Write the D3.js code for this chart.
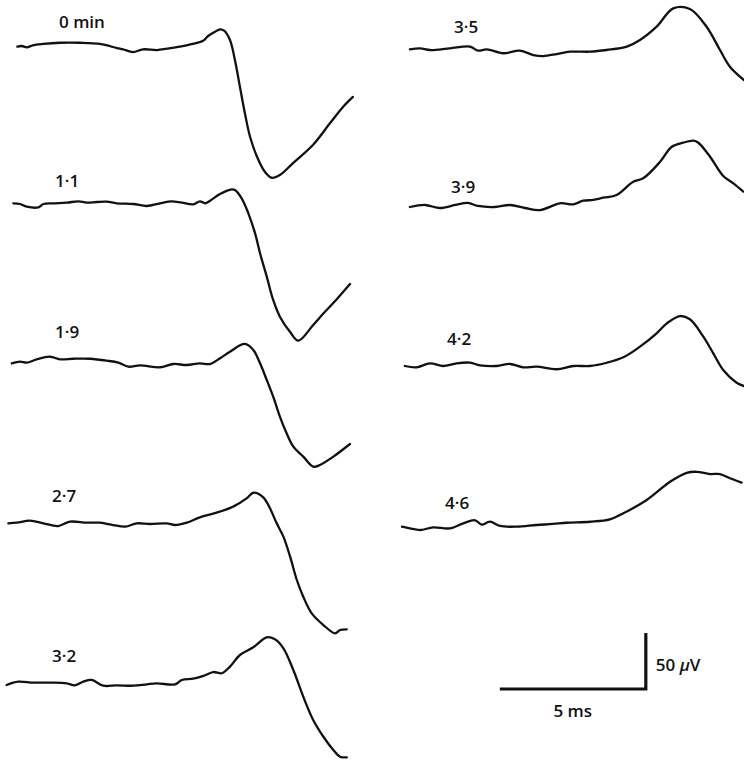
<!DOCTYPE html>
<html>
<head>
<meta charset="utf-8">
<script src="https://cdn.jsdelivr.net/npm/d3@7"></script>
<style>
  html, body { margin: 0; padding: 0; background: #fff; }
  svg { display: block; }
  .lbl { font-family: "Open Sans", "Lato", sans-serif; font-weight: 600; font-size: 17px; fill: #111; }
</style>
</head>
<body>
<svg id="chart" width="744" height="762"></svg>
<script>
// Record labels (minutes after onset)
const labels = ["0 min", "1·1", "1·9", "2·7", "3·2", "3·5", "3·9", "4·2", "4·6"];

// Each record: time (ms from sweep start) and potential (µV from baseline)
const time00 = [0.39,0.54,0.71,0.92,1.27,1.85,2.53,3.22,3.80,4.01,4.35,4.69,5.17,5.51,5.96,6.40,6.75,6.92,7.16,7.33,7.47,7.67,7.84,8.01,8.18,8.36,8.60,8.87,9.11,9.38,9.83,10.51,11.10,11.54,11.88];
const volt00 = [0.3,0.9,-0.3,1.5,2.7,3.8,3.8,2.7,-0.9,-2.1,-4.5,-2.1,-2.7,-1.5,0.3,2.7,5.6,9.8,13.6,15.8,14.6,6.3,-11.6,-35.4,-59,-80.4,-98.2,-111.6,-116.9,-114.3,-103.6,-87.5,-67.9,-53.6,-44.6];

const time11 = [0.25,0.48,0.71,1.11,1.28,1.62,2.08,2.48,2.76,3.11,3.45,3.79,4.36,4.82,5.27,5.67,6.02,6.41,6.64,6.82,6.99,7.33,7.73,7.84,8.07,8.30,8.53,8.70,8.93,9.15,9.38,9.73,10.01,10.52,10.86,11.20,11.78];
const volt11 = [0.6,0,-2.4,-3.0,0,0.6,1.2,2.4,1.2,1.8,2.1,0.6,0,-1.8,0.6,2.4,1.2,-0.3,2.4,0.6,3.0,8.9,13.1,12.5,5.1,-8.3,-26.2,-44.0,-64.8,-85.7,-100.6,-114.3,-122.0,-108.0,-98.0,-88.7,-71.4];

const time19 = [0.20,0.48,0.71,1.05,1.51,1.85,2.30,2.88,3.45,3.85,4.19,4.59,5.27,5.73,6.19,6.64,6.99,7.33,7.67,8.18,8.47,8.70,8.93,9.15,9.38,9.61,9.84,10.18,10.52,10.75,11.21,11.78];
const volt19 = [-0.3,1.2,0.3,3.3,5.6,3.3,3.8,3.8,2.1,0.3,-3.3,-2.1,-3.8,-0.9,-1.8,-0.3,-0.9,4.2,10.1,17.0,11.6,-0.3,-15.2,-30.1,-47.9,-62.8,-74.7,-83.6,-92.6,-91.1,-83.6,-72.3];

const time27 = [0.08,0.37,0.82,1.28,1.79,2.19,2.76,3.22,3.67,4.08,4.48,4.93,5.50,5.79,6.19,6.64,7.21,7.78,8.24,8.47,8.81,9.04,9.27,9.50,9.73,9.96,10.18,10.47,10.87,11.27,11.44,11.67];
const volt27 = [-0.3,0.3,2.1,-0.3,-2.7,1.2,0.3,0.3,-1.8,-3.3,-0.3,-0.9,-0.3,-1.8,0.3,5.1,9.2,14.6,22.0,27.0,22.9,13.1,-0.3,-12.2,-30.1,-50.9,-65.8,-80.7,-91.1,-98.5,-95.5,-94.9];

const time32 = [0.02,0.42,0.93,1.51,2.08,2.36,2.65,2.93,3.33,3.79,4.36,4.82,5.16,5.79,6.02,6.41,6.76,7.10,7.39,7.67,8.01,8.47,8.93,9.21,9.50,9.84,10.18,10.52,10.87,11.21,11.44,11.67];
const volt32 = [-1.8,1.2,0.3,0.3,-0.3,-2.1,1.2,2.7,-2.4,-2.1,-2.4,-1.2,-0.3,-1.2,2.7,3.8,6.3,9.8,8.7,14.6,25.0,31.9,40.8,39.0,31.0,11.6,-12.2,-33.0,-48.0,-59.8,-65.8,-66.4];

const time35 = [0.27,0.62,0.96,1.64,2.33,2.61,2.90,3.47,4.04,4.50,4.84,5.30,5.75,6.44,7.01,7.70,8.15,8.72,9.29,9.86,10.43,10.89,11.23,11.71];
const volt35 = [-0.3,0.6,-0.9,0.6,2.1,-1.5,-0.3,-3.8,-1.5,-5.4,-6.3,-4.5,-2.4,-2.4,-0.9,2.1,8.0,19.9,36.3,35.7,19.9,-0.9,-15.8,-27.7];

const time39 = [0.27,0.79,1.30,1.82,2.26,2.60,3.18,3.70,4.21,4.73,5.41,5.87,6.21,6.55,6.90,7.35,7.92,8.26,8.84,9.24,9.63,9.98,10.15,10.55,11.00,11.35,11.69];
const volt39 = [0,1.8,-0.9,1.8,3.6,0.9,0,1.8,-0.9,-2.7,3.3,2.4,5.6,6.3,8.3,10.7,22.6,25.6,40.4,53.8,57.4,59.2,57.4,44.9,27.7,21.1,13.7];

const time42 = [0.10,0.50,0.96,1.41,1.87,2.33,2.67,3.24,3.70,4.15,4.61,5.30,5.87,6.44,7.01,7.58,8.15,8.72,9.07,9.52,9.86,10.32,10.66,11.00,11.46,11.71];
const volt42 = [0,-1.2,2.4,0,2.4,3.0,0.6,0,1.8,-1.2,-0.6,-2.9,0,0,2.9,7.8,17.3,29.2,38.1,44.6,41.7,26.2,11.3,-3.6,-14.9,-17.9];

const time46 = [0.0,0.27,0.62,1.07,1.64,2.10,2.50,2.73,3.01,3.36,3.93,4.61,5.17,5.63,6.44,7.12,7.58,8.38,9.18,9.75,10.09,10.55,10.89,11.23,11.63];
const volt46 = [0.3,-1.2,-2.7,-0.3,-1.2,3.3,6.0,2.2,4.8,0.9,0.3,1.8,2.7,3.8,4.7,6.8,12.2,24.1,40.4,48.4,49.3,47.3,47.3,43.5,39.6];

const times = [time00, time11, time19, time27, time32, time35, time39, time42, time46];
const volts = [volt00, volt11, volt19, volt27, volt32, volt35, volt39, volt42, volt46];

// Calibration bar values
const calTime = 5;    // ms
const calVolt = 50;   // µV

// ---- layout ----
const W = 744, H = 762;
const pxPerMs = 29.2, pxPerUv = 1.12;
const colLeft = [6, 402];                       // x of t = 0 for each column
const column   = [0, 0, 0, 0, 0, 1, 1, 1, 1];
const baseline = [47, 204, 363, 523, 683, 49, 207, 366, 527];
const labelPos = [[59, 28], [55, 187], [55, 338], [52, 502], [52, 662], [454, 33], [451, 193], [447, 345], [445, 509]];

const svg = d3.select("#chart");

const xScales = colLeft.map(x0 => d3.scaleLinear().domain([0, 12]).range([x0, x0 + 12 * pxPerMs]));
const yScaleFor = b => d3.scaleLinear().domain([0, calVolt]).range([b, b - calVolt * pxPerUv]);

times.forEach((ts, i) => {
  const x = xScales[column[i]];
  const y = yScaleFor(baseline[i]);
  const pts = ts.map((t, j) => [t, volts[i][j]]);
  const line = d3.line()
    .x(d => x(d[0]))
    .y(d => y(d[1]))
    .curve(d3.curveCatmullRom.alpha(0.5));
  svg.append("path")
    .datum(pts)
    .attr("d", line)
    .attr("fill", "none")
    .attr("stroke", "#111")
    .attr("stroke-width", 2.3)
    .attr("stroke-linejoin", "round")
    .attr("stroke-linecap", "round");

  svg.append("text")
    .attr("class", "lbl")
    .attr("x", labelPos[i][0])
    .attr("y", labelPos[i][1])
    .text(labels[i]);
});

// Calibration: 5 ms horizontal, 50 µV vertical
const xc = xScales[1];
const calStart = 3.35;
const yc = yScaleFor(689);
const calPath = d3.path();
calPath.moveTo(xc(calStart), yc(0));
calPath.lineTo(xc(calStart + calTime), yc(0));
calPath.lineTo(xc(calStart + calTime), yc(calVolt));
svg.append("path")
  .attr("d", calPath.toString())
  .attr("fill", "none")
  .attr("stroke", "#111")
  .attr("stroke-width", 3.2)
  .attr("stroke-linejoin", "miter");

const vText = svg.append("text")
  .attr("class", "lbl")
  .attr("x", xc(calStart + calTime) + 10)
  .attr("y", 671);
vText.append("tspan").text(calVolt + " ");
vText.append("tspan").attr("font-style", "italic").text("µ");
vText.append("tspan").text("V");

svg.append("text")
  .attr("class", "lbl")
  .attr("x", xc(calStart + calTime / 2))
  .attr("y", 717)
  .attr("text-anchor", "middle")
  .text(calTime + " ms");
</script>
</body>
</html>
